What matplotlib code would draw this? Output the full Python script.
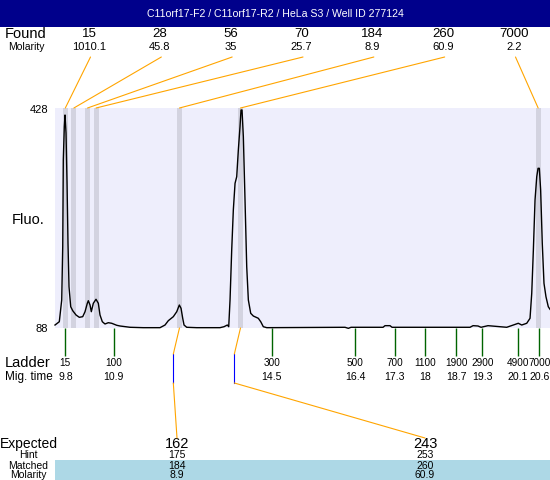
import numpy as np
import matplotlib
matplotlib.use("Agg")
import matplotlib.pyplot as plt
from matplotlib.patches import Rectangle, ConnectionPatch
from matplotlib.transforms import blended_transform_factory

# ---------------- data ----------------
title = "C11orf17-F2 / C11orf17-R2 / HeLa S3 / Well ID 277124"

trace_time = [9.565, 9.663, 9.718, 9.741, 9.754, 9.777, 9.793, 9.816, 9.839, 9.861,
              9.884, 9.923, 9.969, 10.044, 10.119, 10.196, 10.249, 10.301, 10.324, 10.363,
              10.392, 10.438, 10.499, 10.552, 10.590, 10.643, 10.704, 10.779, 10.857, 10.971,
              11.046, 11.274, 11.577, 11.957, 12.071, 12.146, 12.260, 12.338, 12.397, 12.436,
              12.474, 12.504, 12.565, 12.793, 13.324, 13.415, 13.490, 13.522, 13.552, 13.590,
              13.627, 13.666, 13.704, 13.741, 13.779, 13.802, 13.825, 13.855, 13.893, 13.932,
              13.969, 14.023, 14.083, 14.196, 14.251, 14.310, 14.388, 16.171, 16.247, 16.308,
              17.037, 17.082, 17.196, 17.242, 19.018, 19.087, 19.200, 19.269, 19.428, 19.701,
              19.854, 20.004, 20.118, 20.196, 20.310, 20.385, 20.424, 20.461, 20.499, 20.538,
              20.568, 20.597, 20.627, 20.664, 20.703, 20.748, 20.801, 20.840]
trace_fluo = [92.6, 97.7, 131.3, 213.6, 347.6, 399.1, 417.2, 389.4, 312.1, 219.4,
              151.8, 120.9, 114.7, 108.1, 104.5, 105.5, 113.2, 126.2, 130.2, 123.5,
              113.2, 126.2, 132.4, 126.2, 108.1, 97.7, 94.2, 96.2, 95.3, 92.2,
              91.1, 89.1, 88.5, 88.5, 92.6, 99.3, 105.5, 113.2, 123.5, 118.4,
              103.0, 92.6, 89.1, 88.5, 88.5, 90.0, 92.6, 90.0, 131.3, 208.5,
              270.4, 311.6, 321.8, 363.1, 399.1, 424.9, 424.9, 383.7, 286.2, 182.7,
              131.3, 110.7, 106.5, 103.0, 97.7, 90.0, 88.5, 89.1, 87.5, 89.1,
              89.1, 91.6, 91.6, 89.1, 89.1, 91.6, 91.1, 89.1, 91.6, 90.0,
              89.1, 92.6, 95.3, 92.6, 95.3, 103.0, 141.6, 208.5, 285.8, 321.8,
              334.8, 334.8, 301.3, 218.9, 157.1, 136.4, 120.9, 116.9]

found_sizes = ["15", "28", "56", "70", "184", "260", "7000"]
found_molarity = ["1010.1", "45.8", "35", "25.7", "8.9", "60.9", "2.2"]
found_times = [9.80, 9.995, 10.306, 10.50, 12.40, 13.79, 20.57]

ladder_sizes = ["15", "100", "300", "500", "700", "1100", "1900", "2900", "4900", "7000"]
ladder_times = [9.8, 10.9, 14.5, 16.4, 17.3, 18.0, 18.7, 19.3, 20.1, 20.6]
ladder_time_labels = ["9.8", "10.9", "14.5", "16.4", "17.3", "18", "18.7", "19.3", "20.1", "20.6"]

expected = ["162", "243"]
hint = ["175", "253"]
matched = ["184", "260"]
matched_molarity = ["8.9", "60.9"]
matched_times = [12.40, 13.79]
expected_times = [12.26, 13.65]

y_min, y_max = 88, 428
x_min, x_max = 9.565, 20.84

# ---------------- figure ----------------
plt.rcParams['font.family'] = ['Liberation Sans', 'DejaVu Sans']
W, H = 550, 480
fig = plt.figure(figsize=(W / 100, H / 100), dpi=100)

ov = fig.add_axes([0, 0, 1, 1])
ov.set_xlim(0, W)
ov.set_ylim(H, 0)
ov.axis('off')
ov.patch.set_alpha(0)

ax = fig.add_axes([55 / W, (H - 328) / H, 495 / W, 220 / H])
ax.set_facecolor('#EEEEFC')
ax.set_xlim(x_min, x_max)
ax.set_ylim(y_min, y_max)
for s in ax.spines.values():
    s.set_visible(False)
ax.set_xticks([])
ax.set_yticks([])

band_w = 0.115
for t in found_times:
    ax.axvspan(t - band_w / 2, t + band_w / 2, color='#D3D3E0', lw=0, zorder=1)
ax.plot(trace_time, trace_fluo, color='black', lw=1.0, zorder=3, clip_on=False)

# title bar
ov.add_patch(Rectangle((0, 0), W, 27, color='#00008B', lw=0))
ov.text(W / 2, 14, title, color='white', fontsize=7.6, ha='center', va='center')

# Found / molarity rows
ov.text(5, 34, "Found", fontsize=10.5, ha='left', va='center')
ov.text(8, 47, "Molarity", fontsize=7.5, ha='left', va='center')
slots = np.linspace(89, 514, len(found_sizes))
orange = '#FFA500'
for sx, sz, mol, t in zip(slots, found_sizes, found_molarity, found_times):
    ov.text(sx, 34, sz, fontsize=9.5, ha='center', va='center')
    ov.text(sx, 47, mol, fontsize=8, ha='center', va='center')
    cp = ConnectionPatch(xyA=(sx + 1.5, 57), coordsA=ov.transData,
                         xyB=(t, y_max), coordsB=ax.transData,
                         color=orange, lw=0.8)
    fig.add_artist(cp)

# y labels
ov.text(48, 110, str(y_max), fontsize=8, ha='right', va='center')
ov.text(48, 329, str(y_min), fontsize=8, ha='right', va='center')
ov.text(12, 220, "Fluo.", fontsize=10.5, ha='left', va='center')

# ladder
bt = blended_transform_factory(ax.transData, ov.transData)
ov.vlines(ladder_times, 328, 356, colors='#006400', lw=1.0, transform=bt)
ov.text(5, 363, "Ladder", fontsize=10.5, ha='left', va='center')
ov.text(5, 377, "Mig. time", fontsize=8.5, ha='left', va='center')
for t, s, mt in zip(ladder_times, ladder_sizes, ladder_time_labels):
    ov.text(t, 363, s, fontsize=7.2, ha='center', va='center', transform=bt)
    ov.text(t, 377, mt, fontsize=7.6, ha='center', va='center', transform=bt)

# expected table
ov.add_patch(Rectangle((55, 460), W - 55, 20, color='#ADD8E6', lw=0))
ov.text(0, 444, "Expected", fontsize=10, ha='left', va='center')
ov.text(28, 455, "Hint", fontsize=7.5, ha='center', va='center')
ov.text(28, 466, "Matched", fontsize=7.5, ha='center', va='center')
ov.text(28, 475, "Molarity", fontsize=7.5, ha='center', va='center')
exp_slots = [177, 425]
for sx, e, h, m, mm, t_m, t_e in zip(exp_slots, expected, hint, matched, matched_molarity,
                                      matched_times, expected_times):
    ov.text(sx, 444, e, fontsize=10.5, ha='center', va='center')
    ov.text(sx, 455, h, fontsize=7.5, ha='center', va='center')
    ov.text(sx, 466, m, fontsize=7.5, ha='center', va='center')
    ov.text(sx, 475, mm, fontsize=7.5, ha='center', va='center')
    fig.add_artist(ConnectionPatch(xyA=(t_m, y_min), coordsA=ax.transData,
                                   xyB=(t_e, 354), coordsB=bt, color=orange, lw=0.8))
    ov.plot([t_e, t_e], [354, 383], color='#0000FF', lw=0.8, transform=bt)
    fig.add_artist(ConnectionPatch(xyA=(t_e, 383), coordsA=bt,
                                   xyB=(sx, 438), coordsB=ov.transData, color=orange, lw=0.8))

fig.savefig("out.png", dpi=100)
